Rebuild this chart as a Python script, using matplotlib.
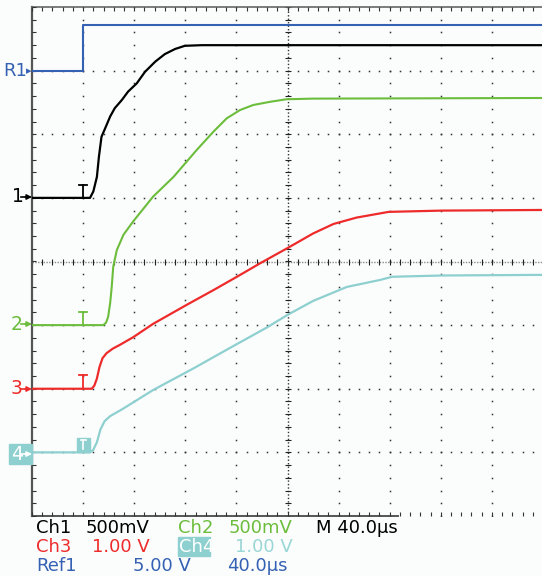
import matplotlib
matplotlib.use("Agg")
import matplotlib.pyplot as plt
import numpy as np
from matplotlib.patches import Rectangle, FancyArrowPatch
from matplotlib.lines import Line2D

ref1_x = [0, 1.0, 1.0, 10]
ref1_y = [3.0, 3.0, 3.72, 3.72]

ch1_x = [0, 1.135, 1.20, 1.27, 1.31, 1.36, 1.43, 1.53, 1.62, 1.76, 1.88, 2.05,
         2.21, 2.41, 2.60, 2.80, 2.99, 3.32, 10]
ch1_y = [1.0, 1.0, 1.10, 1.33, 1.65, 1.96, 2.09, 2.28, 2.41, 2.54, 2.67, 2.80,
         2.98, 3.14, 3.26, 3.34, 3.39, 3.40, 3.40]

ch2_x = [0, 1.395, 1.45, 1.49, 1.53, 1.56, 1.59, 1.66, 1.79, 1.98, 2.37, 2.77,
         3.22, 3.55, 3.81, 4.07, 4.33, 4.66, 4.98, 5.50, 10]
ch2_y = [-1.0, -1.0, -0.96, -0.87, -0.65, -0.40, -0.08, 0.18, 0.42, 0.63, 1.02, 1.33,
         1.75, 2.04, 2.25, 2.38, 2.46, 2.51, 2.55, 2.56, 2.57]

ch3_x = [0, 1.17, 1.22, 1.27, 1.32, 1.38, 1.46, 1.58, 1.72, 1.98, 2.37, 3.03, 3.55,
         4.01, 4.46, 5.02, 5.50, 5.90, 6.35, 6.98, 8.02, 10]
ch3_y = [-2.0, -2.0, -1.95, -1.84, -1.66, -1.52, -1.44, -1.37, -1.31, -1.19, -0.98, -0.68, -0.45,
         -0.24, -0.03, 0.22, 0.44, 0.59, 0.69, 0.78, 0.80, 0.81]

ch4_x = [0, 1.135, 1.20, 1.27, 1.34, 1.42, 1.53, 1.79, 2.37, 3.16, 3.87, 4.59, 5.02,
         5.50, 6.16, 6.81, 7.05, 8.02, 10]
ch4_y = [-3.0, -3.0, -2.96, -2.84, -2.64, -2.51, -2.43, -2.31, -2.02, -1.68, -1.36, -1.04, -0.83,
         -0.62, -0.40, -0.29, -0.24, -0.22, -0.21]

niebieski = '#3561b3'
zielony = '#6cbd3c'
czerwony = '#ee2b2b'
cyjan = '#8ecfcf'
tlo = '#fbfdfd'

W, H = 542, 576
fig = plt.figure(figsize=(W / 100, H / 100), dpi=100)
fig.patch.set_facecolor(tlo)

# graticule : x 32..543 px, y 7..516 px
ax = fig.add_axes([32 / W, (H - 516) / H, 511 / W, 509 / H])
ax.set_xlim(0, 10)
ax.set_ylim(-4, 4)
ax.set_facecolor(tlo)
ax.axis('off')

kropka = '#333333'
kroki_x = np.arange(0, 10.01, 0.2)
kroki_y = np.arange(-4, 4.01, 0.2)
for gx in range(1, 10):
    if gx == 5:
        continue
    ax.plot(np.full_like(kroki_y, gx), kroki_y, ls='none', marker='s', ms=1.1,
            color=kropka, mew=0)
for gy in range(-3, 4):
    if gy == 0:
        continue
    ax.plot(kroki_x, np.full_like(kroki_x, gy), ls='none', marker='s', ms=1.1,
            color=kropka, mew=0)

# krzyz centralny
ax.plot([0, 10], [0, 0], color='#8a8a8a', lw=1.0, ls=(0, (1, 1)))
ax.plot([5, 5], [-4, 4], color='#333333', lw=1.0, ls=(0, (1, 1.5)))
ax.plot(kroki_x, np.zeros_like(kroki_x), ls='none', marker='|', ms=5, mew=0.8, color='#222222')
ax.plot(np.full_like(kroki_y, 5), kroki_y, ls='none', marker='_', ms=5, mew=0.8, color='#222222')

# krawedzie
ax.plot([0, 0], [-4, 4], color='#555555', lw=1.6, clip_on=False)
ax.plot([0, 10], [4, 4], color='#666666', lw=1.2, clip_on=False)
ax.plot([0, 7.16], [-4, -4], color='#555555', lw=1.4, clip_on=False)
ax.plot(np.zeros_like(kroki_y), kroki_y, ls='none', marker=1, ms=3, mew=0.8, color=kropka)
ax.plot(kroki_x, np.full_like(kroki_x, 4), ls='none', marker=3, ms=3, mew=0.8, color=kropka)
ax.plot(kroki_x, np.full_like(kroki_x, -4), ls='none', marker=2, ms=3, mew=0.8, color=kropka)

# przebiegi
ax.plot(ref1_x, ref1_y, color=niebieski, lw=1.5, zorder=5)
ax.plot(ch1_x, ch1_y, color='black', lw=1.6, zorder=5)
ax.plot(ch2_x, ch2_y, color=zielony, lw=1.5, zorder=5)
ax.plot(ch3_x, ch3_y, color=czerwony, lw=1.6, zorder=5)
ax.plot(ch4_x, ch4_y, color=cyjan, lw=1.6, zorder=5)

# znaczniki wyzwalania
for poziom, kolor in [(1.0, 'black'), (-1.0, zielony), (-2.0, czerwony)]:
    ax.plot([1.0, 1.0], [poziom, poziom + 0.21], color=kolor, lw=1.3, zorder=6)
    ax.plot([0.92, 1.08], [poziom + 0.21, poziom + 0.21], color=kolor, lw=1.3, zorder=6)
ax.add_patch(Rectangle((0.88, -2.99), 0.25, 0.22, color=cyjan, zorder=6))
ax.plot([1.005, 1.005], [-2.95, -2.81], color='white', lw=1.2, zorder=7)
ax.plot([0.95, 1.06], [-2.81, -2.81], color='white', lw=1.2, zorder=7)


def px(x, y):
    return x / W, 1 - y / H


# etykiety kanalow po lewej
def etykieta(y, cyfra, kolor, x0=11):
    fig.text(*px(x0, y), cyfra, color=kolor, fontsize=13.5, va='center', ha='left', zorder=4)
    fig.add_artist(Line2D([21 / W, 28 / W], [1 - y / H, 1 - y / H], transform=fig.transFigure,
                          color=kolor, lw=1.2, zorder=4))
    strzalka = FancyArrowPatch(px(25, y), px(32, y), transform=fig.transFigure,
                               arrowstyle='-|>', color=kolor, lw=1.0,
                               mutation_scale=8, shrinkA=0, shrinkB=0, zorder=4)
    fig.add_artist(strzalka)


fig.text(*px(27, 71.5), 'R1', color=niebieski, fontsize=13, va='center', ha='right')
fig.text(*px(26, 71.5), '▸', color=niebieski, fontsize=8, va='center', ha='left')
etykieta(197, '1', 'black', x0=12)
etykieta(324, '2', zielony)
etykieta(389, '3', czerwony)
fig.patches.append(Rectangle(px(9, 464), 23 / W, 20 / H, transform=fig.transFigure,
                             color=cyjan, figure=fig))
etykieta(454, '4', 'white')

# opis na dole
rozmiar = 13
wiersze = [
    (533, 36, 'Ch1', 'black'), (533, 86, '500mV', 'black'),
    (533, 178, 'Ch2', zielony), (533, 229, '500mV', zielony),
    (533, 316, 'M 40.0µs', 'black'),
    (552, 36, 'Ch3', czerwony), (552, 92, '1.00 V', czerwony),
    (552, 235, '1.00 V', '#9ad6d6'),
    (571, 36, 'Ref1', niebieski), (571, 133, '5.00 V', niebieski),
    (571, 227, '40.0µs', niebieski),
]
fig.patches.append(Rectangle(px(178, 556), 32 / W, 19 / H, transform=fig.transFigure,
                             color=cyjan, figure=fig))
fig.text(*px(179, 552), 'Ch4', color='white', fontsize=rozmiar, va='baseline', ha='left')
for y, x, tekst, kolor in wiersze:
    fig.text(*px(x, y), tekst, color=kolor, fontsize=rozmiar, va='baseline', ha='left')

fig.savefig('out.png', dpi=100, facecolor=fig.get_facecolor())
